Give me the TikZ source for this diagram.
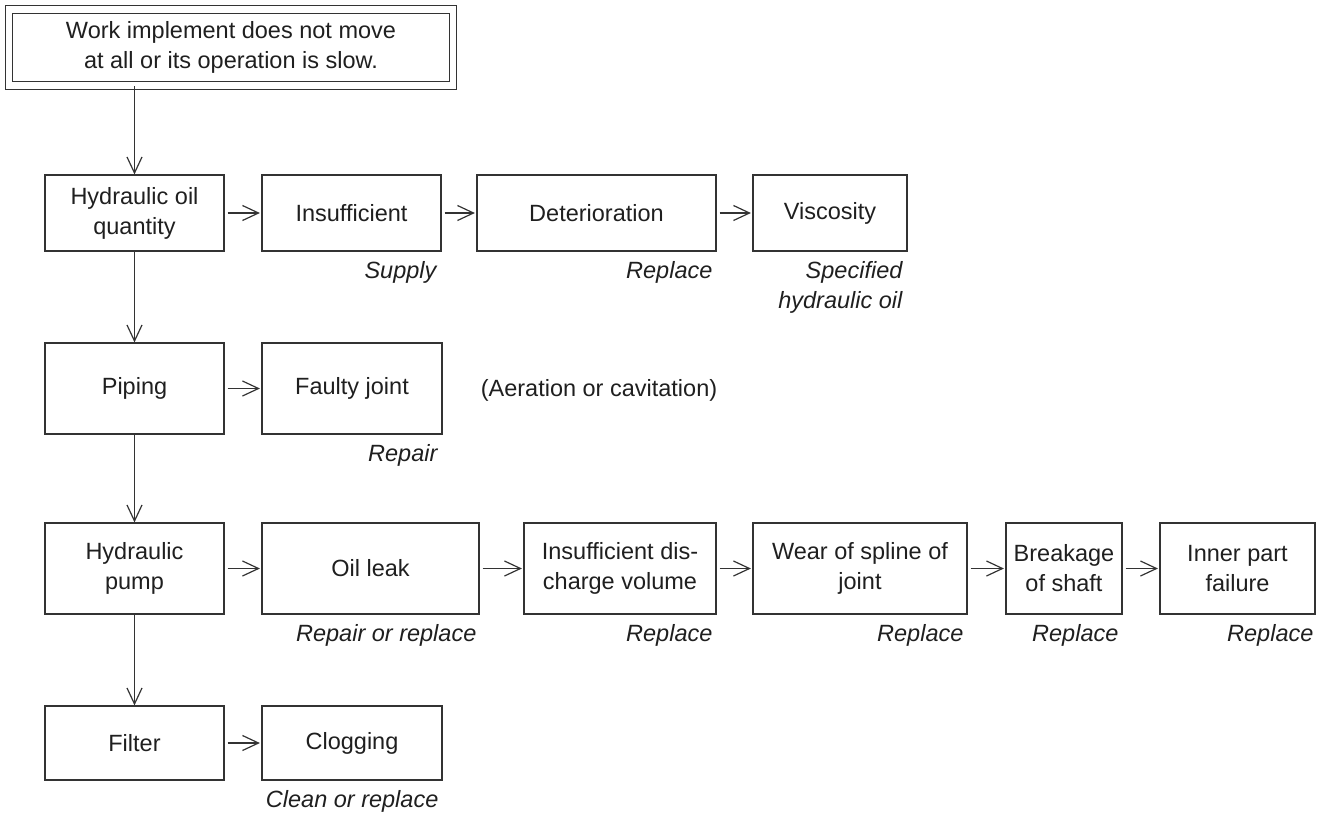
\documentclass[tikz,border=0pt]{standalone}
\usepackage{fontspec}
\setmainfont{Liberation Sans}
\usetikzlibrary{arrows.meta,calc}
\begin{document}
\begin{tikzpicture}[x=1pt,y=-1pt,
  font=\fontsize{23.5}{30}\selectfont,
  line/.style={draw=black!80, line width=1.2pt},
  arr/.style={line, -{Straight Barb[length=16pt,width=15pt,line width=1.2pt]}},
  harr/.style={arr, shorten <=3pt, shorten >=1.5pt},
  box/.style={line, align=center, inner sep=2pt, text=black!88},
  cause/.style={box, minimum width=#1},
  remedy/.style={font=\fontsize{23.5}{30}\selectfont\itshape, text=black!88,
                 anchor=base east, align=right, inner sep=0pt},
  note/.style={text=black!88, inner sep=0pt}
]
\useasboundingbox (0,0) rectangle (1328,814);

% top symptom box with double frame
\node[box, double, double distance=6.5pt, minimum width=444pt, minimum height=76pt]
  (top) at (231,47.5) {Work implement does not move\\at all or its operation is slow.};

% row 1: hydraulic oil
\node[cause=179pt, minimum height=76pt] (hyd)   at (134.5,213) {Hydraulic oil\\quantity};
\node[cause=179pt, minimum height=76pt] (insuf) at (351.5,213) {Insufficient};
\node[cause=239pt, minimum height=76pt] (deter) at (596.5,213) {Deterioration};
\node[cause=154pt, minimum height=76pt] (visc)  at (830,213)   {Viscosity};

% row 2: piping
\node[cause=179pt, minimum height=91pt] (pipe)   at (134.5,388.5) {Piping};
\node[cause=180pt, minimum height=91pt] (faulty) at (352,388.5)   {Faulty joint};
\node[note] (aer) at (599,390) {(Aeration or cavitation)};

% row 3: hydraulic pump
\node[cause=179pt, minimum height=91pt] (pump)  at (134.5,568.5) {Hydraulic\\pump};
\node[cause=217pt, minimum height=91pt] (leak)  at (370.5,568.5) {Oil leak};
\node[cause=192pt, minimum height=91pt] (disch) at (620,568.5)   {Insufficient dis-\\charge volume};
\node[cause=214pt, minimum height=91pt] (wear)  at (860,568.5)   {Wear of spline of\\joint};
\node[cause=116pt, minimum height=91pt] (brk)   at (1064,568.5)  {Breakage\\of shaft};
\node[cause=155pt, minimum height=91pt] (inner) at (1237.5,568.5){Inner part\\failure};

% row 4: filter
\node[cause=179pt, minimum height=74pt] (filt) at (134.5,743) {Filter};
\node[cause=180pt, minimum height=74pt] (clog) at (352,743)   {Clogging};

% remedies (base anchor of a two-line node sits on its last line)
\node[remedy] (r1) at ([xshift=-5pt,yshift=-27pt]insuf.south east) {Supply};
\node[remedy] (r2) at ([xshift=-4pt,yshift=-27pt]deter.south east) {Replace};
\node[remedy] (r3) at ([xshift=-5pt,yshift=-57pt]visc.south east)  {Specified\\hydraulic oil};
\node[remedy] (r4) at ([xshift=-5pt,yshift=-27pt]faulty.south east) {Repair};
\node[remedy] (r5) at ([xshift=-3pt,yshift=-27pt]leak.south east)  {Repair or replace};
\node[remedy] (r6) at ([xshift=-4pt,yshift=-27pt]disch.south east) {Replace};
\node[remedy] (r7) at ([xshift=-4pt,yshift=-27pt]wear.south east)  {Replace};
\node[remedy] (r8) at ([xshift=-4pt,yshift=-27pt]brk.south east)   {Replace};
\node[remedy] (r9) at ([xshift=-2pt,yshift=-27pt]inner.south east) {Replace};
\node[remedy] (r10) at ([xshift=-4pt,yshift=-27pt]clog.south east) {Clean or replace};

% main vertical chain
\draw[arr] (top.south -| hyd.north) -- (hyd.north);
\draw[arr] (hyd.south) -- (pipe.north);
\draw[arr] (pipe.south) -- (pump.north);
\draw[arr] (pump.south) -- (filt.north);

% horizontal chains
\draw[harr] (hyd.east) -- (insuf.west);
\draw[harr] (insuf.east) -- (deter.west);
\draw[harr] (deter.east) -- (visc.west);
\draw[harr] (pipe.east) -- (faulty.west);
\draw[harr] (pump.east) -- (leak.west);
\draw[harr] (leak.east) -- (disch.west);
\draw[harr] (disch.east) -- (wear.west);
\draw[harr] (wear.east) -- (brk.west);
\draw[harr] (brk.east) -- (inner.west);
\draw[harr] (filt.east) -- (clog.west);
\end{tikzpicture}
\end{document}
